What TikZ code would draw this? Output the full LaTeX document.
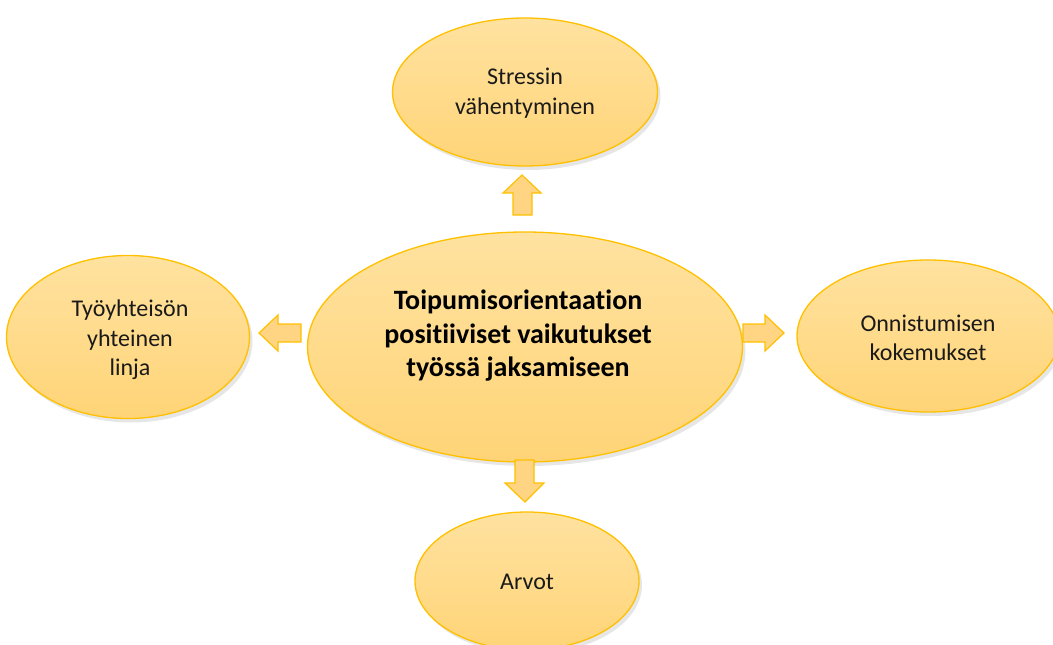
\documentclass[tikz,border=0pt]{standalone}
\usepackage{fontspec}
\setmainfont{Carlito}[Ligatures=NoCommon]
\usetikzlibrary{shapes.geometric,shadows}
\definecolor{bord}{HTML}{FFC000}
\definecolor{filltop}{HTML}{FFE2A0}
\definecolor{fillbot}{HTML}{FFD477}
\definecolor{arrfill}{HTML}{FFD584}
\definecolor{txt}{HTML}{1A1A1A}
\tikzset{
  bubble/.style={ellipse, draw=bord, line width=1.3pt, top color=filltop, bottom color=fillbot,
    inner sep=0pt, drop shadow={opacity=0.2, shadow xshift=3pt, shadow yshift=-4pt}},
  lbl/.style={align=center, text=txt, font=\fontsize{24}{29.5}\selectfont},
  mainlbl/.style={align=center, text=black, font=\bfseries\fontsize{28}{33.5}\selectfont},
  blockarrow/.style={draw=bord, line width=1.2pt, fill=arrfill, line join=miter}
}
\begin{document}
\begin{tikzpicture}[x=1pt,y=-1pt]
\useasboundingbox (0,0) rectangle (1053,645);
% ellipses
\node[bubble, minimum width=435pt, minimum height=230pt] (center) at (525,347) {};
\node[mainlbl] (centertext) at (518,336) {Toipumisorientaation\\positiiviset vaikutukset\\työssä jaksamiseen};
\node[bubble, minimum width=265pt, minimum height=148pt] (top) at (525,92) {};
\node[lbl] (toptext) at (525,93) {Stressin\\vähentyminen};
\node[bubble, minimum width=243pt, minimum height=163pt] (left) at (128,337) {};
\node[lbl] (lefttext) at (130,340) {Työyhteisön\\yhteinen\\linja};
\node[bubble, minimum width=262pt, minimum height=152pt] (right) at (928,336) {};
\node[lbl] (righttext) at (928,338) {Onnistumisen\\kokemukset};
\node[bubble, minimum width=224pt, minimum height=138pt] (bottom) at (527,581) {};
\node[lbl] (bottomtext) at (527,582) {Arvot};
% block arrows
\draw[blockarrow] (513,215) -- (513,193) -- (503,193) -- (522,175) -- (541,193) -- (532,193) -- (532,215) -- cycle;
\draw[blockarrow] (743,324) -- (765,324) -- (765,315) -- (784,333) -- (765,351) -- (765,342) -- (743,342) -- cycle;
\draw[blockarrow] (301,324) -- (278,324) -- (278,315) -- (259,333) -- (278,351) -- (278,342) -- (301,342) -- cycle;
\draw[blockarrow] (515,460) -- (534,460) -- (534,483) -- (544,483) -- (525,502) -- (505,483) -- (515,483) -- cycle;
\end{tikzpicture}
\end{document}
